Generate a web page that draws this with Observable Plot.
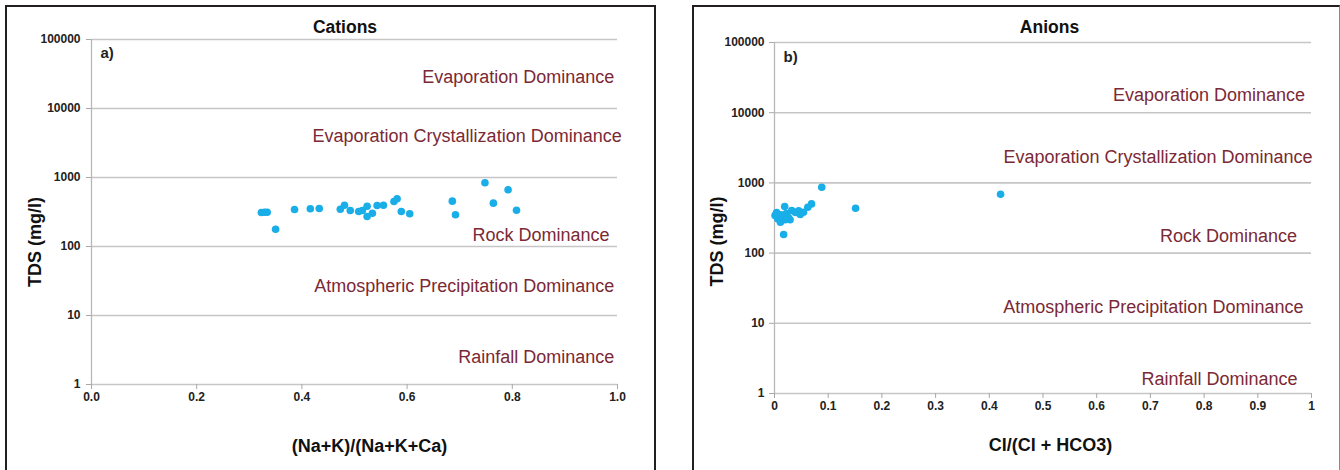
<!DOCTYPE html>
<html><head><meta charset="utf-8">
<script src="https://cdn.jsdelivr.net/npm/d3@7"></script>
<script src="https://cdn.jsdelivr.net/npm/@observablehq/plot@0.6"></script>
<style>
body{margin:0;background:#fff;}
#wrap{position:relative;width:1340px;height:470px;overflow:hidden;background:#fff;}
.frame{position:absolute;box-sizing:border-box;border:2px solid #231f20;}
.panel{position:absolute;top:0;}
g[aria-label="y-axis tick label"], g[aria-label="x-axis tick label"]{font-weight:bold;}
</style></head><body>
<div id="wrap">
  <div class="frame" style="left:5px;top:5px;width:651px;height:520px;"></div>
  <div class="frame" style="left:692px;top:5px;width:648px;height:520px;border-right:1.5px solid #8a8a8a;"></div>
  <div class="panel" id="left" style="left:0px;"></div>
  <div class="panel" id="right" style="left:680px;"></div>
</div>
<script>
// ---- data ----
const yTicks = [1, 10, 100, 1000, 10000, 100000];
const cationXTicks = [0, 0.2, 0.4, 0.6, 0.8, 1.0];
const anionXTicks = [0, 0.1, 0.2, 0.3, 0.4, 0.5, 0.6, 0.7, 0.8, 0.9, 1];

const cationRatio = [0.323,0.329,0.334,0.350,0.386,0.416,0.433,0.473,0.481,0.492,0.508,0.515,0.524,0.524,0.534,0.543,0.555,0.575,0.581,0.589,0.605,0.686,0.692,0.748,0.764,0.792,0.808];
const cationTDS   = [311,314,314,178,344,352,356,347,397,333,322,333,384,272,304,393,397,449,491,322,298,454,288,838,425,664,336];

const anionRatio = [0.088,0.069,0.062,0.054,0.048,0.032,0.019,0.009,0.006,0.014,0.020,0.011,0.029,0.017,0.001,0.151,0.421,0.022,0.039,0.004,0.026,0.045,0.003,0.012];
const anionTDS   = [865,502,450,382,354,404,460,343,308,324,298,275,298,184,343,435,690,365,380,378,320,400,360,350];

const zoneNames = ["Evaporation Dominance","Evaporation Crystallization Dominance","Rock Dominance","Atmospheric Precipitation Dominance","Rainfall Dominance"];
const cationZoneX = [0.994,1.008,0.985,0.994,0.994];
const cationZoneY = [28100,3930,144,26.3,2.46];
const anionZoneX = [0.988,1.002,0.973,0.985,0.974];
const anionZoneY = [18000,2290,172,16.8,1.59];

const FONT = '"Liberation Sans", Arial, Helvetica, sans-serif';

function panel(cfg){
  const pts = cfg.xs.map((x,i)=>({x, y: cfg.ys[i]}));
  const zones = zoneNames.map((t,i)=>({t, x: cfg.zx[i], y: cfg.zy[i]}));
  return Plot.plot({
    width: 660, height: 470,
    marginLeft: cfg.ml, marginRight: cfg.mr, marginTop: cfg.mt, marginBottom: cfg.mb,
    style: {fontFamily: FONT, background: "transparent", overflow: "visible"},
    x: {domain: [0, 1]},
    y: {type: "log", domain: [1, 100000]},
    marks: [
      Plot.ruleY(yTicks, {stroke: "#c6c6c6", strokeWidth: 1.6}),
      Plot.ruleX([0], {stroke: "#b8b8b8", strokeWidth: 1.3}),
      Plot.axisY({ticks: yTicks, tickFormat: d => String(d), tickSize: 5, tickPadding: cfg.ypad, label: null, fontSize: 12, fill: "#222", stroke: "#a8a8a8"}),
      Plot.axisX({ticks: cfg.xticks, tickFormat: cfg.xfmt, tickSize: 5, tickPadding: 3, label: null, fontSize: 12, fill: "#222", stroke: "#a8a8a8"}),
      Plot.text(zones, {x: "x", y: "y", text: "t", textAnchor: "end", fill: "#7b2935", fontSize: 18}),
      Plot.dot(pts, {x: "x", y: "y", r: 3.8, fill: "#1aaee8", stroke: "none"}),
      Plot.text([cfg.title], {frameAnchor: "top", textAnchor: "middle", lineAnchor: "middle", dx: cfg.tdx, dy: cfg.tdy, fontSize: 17.5, fontWeight: "bold", fill: "#111"}),
      Plot.text([cfg.letter], {frameAnchor: "top-left", textAnchor: "start", lineAnchor: "middle", dx: 9, dy: cfg.ldy, fontSize: 15, fontWeight: "bold", fill: "#222"}),
      Plot.text(["TDS (mg/l)"], {frameAnchor: "left", textAnchor: "middle", lineAnchor: "middle", rotate: -90, dx: cfg.ydx, dy: cfg.ydy, fontSize: 18, fontWeight: "bold", fill: "#111"}),
      Plot.text([cfg.xlabel], {frameAnchor: "bottom", textAnchor: "middle", lineAnchor: "middle", dx: cfg.xdx, dy: cfg.xdy, fontSize: 18, fontWeight: "bold", fill: "#111"})
    ]
  });
}

document.getElementById("left").append(panel({
  xs: cationRatio, ys: cationTDS, zx: cationZoneX, zy: cationZoneY,
  ml: 91, mr: 43, mt: 39, mb: 86, ypad: 6,
  xticks: cationXTicks, xfmt: d3.format(".1f"),
  title: "Cations", tdx: -9.5, tdy: -12.5,
  letter: "a)", ldy: 14,
  ydx: -56, ydy: 30,
  xlabel: "(Na+K)/(Na+K+Ca)", xdx: 15, xdy: 62
}));

document.getElementById("right").append(panel({
  xs: anionRatio, ys: anionTDS, zx: anionZoneX, zy: anionZoneY,
  ml: 94, mr: 29, mt: 42, mb: 77, ypad: 5,
  xticks: anionXTicks, xfmt: d => String(d),
  title: "Anions", tdx: 6.5, tdy: -15,
  letter: "b)", ldy: 15,
  ydx: -57, ydy: 23.5,
  xlabel: "Cl/(Cl + HCO3)", xdx: 7.5, xdy: 52
}));
</script>
</body></html>
